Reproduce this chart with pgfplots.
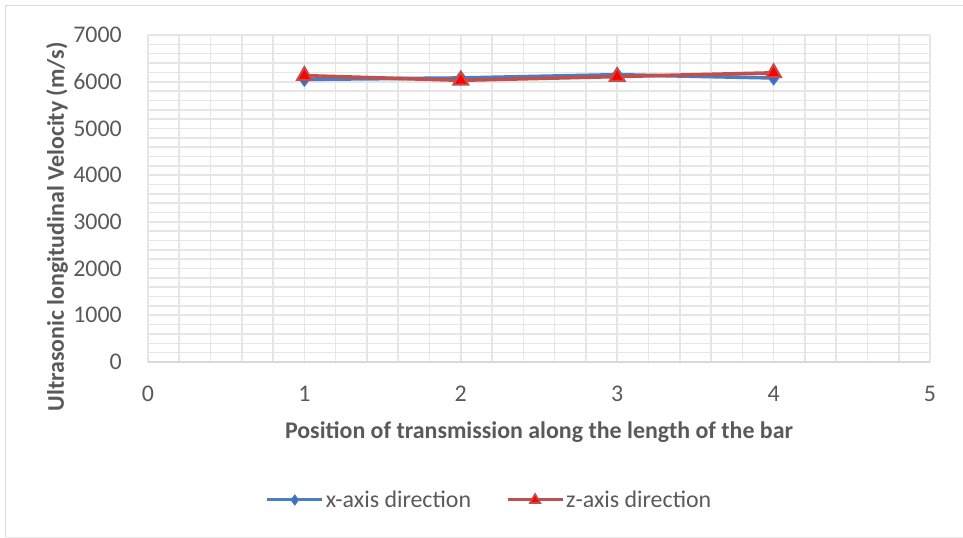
\documentclass[border=0pt]{standalone}
\usepackage{pgfplots}
\pgfplotsset{compat=1.18}
\usepackage{fontspec}
\setmainfont{Carlito}
\definecolor{txt}{HTML}{595959}
\definecolor{gridc}{HTML}{E6E6E6}
\definecolor{axc}{HTML}{D9D9D9}
\definecolor{blueS}{HTML}{4A7EC4}
\definecolor{blueM}{HTML}{3A6FC0}
\definecolor{redS}{HTML}{C0504D}
\begin{document}
\begin{tikzpicture}[x=1bp,y=1bp]
\path[use as bounding box] (0,0) rectangle (963,538);
\draw[color=axc, line width=1bp] (5.5,0.5) -- (5.5,532.5) -- (963,532.5);
\draw[color=gridc!70, line width=0.7bp] (5.5,0.8) -- (963,0.8);
\begin{axis}[
  at={(148bp,176bp)}, anchor=south west,
  width=782bp, height=327bp, scale only axis,
  xmin=0, xmax=5, ymin=0, ymax=7000,
  xtick={0,1,2,3,4,5}, ytick={0,1000,...,7000},
  minor x tick num=4, minor y tick num=4,
  grid=both,
  major grid style={draw=gridc, line width=1.6bp},
  minor grid style={draw=gridc, line width=1.6bp},
  axis x line*=bottom, axis y line*=left,
  y axis line style={draw=none},
  x axis line style={draw=axc, line width=1.6bp, -},
  major tick length=0pt, minor tick length=0pt,
  tick style={draw=none},
  /pgf/number format/assume math mode=true,
  /pgf/number format/set thousands separator={},
  ticklabel style={font=\fontsize{24}{28}\selectfont, text=txt, inner sep=0pt},
  yticklabel style={anchor=east, xshift=-26bp},
  xticklabel style={anchor=north, yshift=-23.5bp},
  xlabel={Position of transmission along the length of the bar},
  ylabel={Ultrasonic longitudinal Velocity (m/s)},
  label style={font=\fontsize{24}{28}\selectfont\bfseries, text=txt, inner sep=0pt},
  xlabel style={at={(axis description cs:0.5,0)}, anchor=center, yshift=-70bp},
  ylabel style={at={(axis description cs:-0.1164,0.413)}, anchor=center},
  legend style={at={(0.4367,-0.422)}, anchor=center, draw=none, fill=none,
    legend columns=2, font=\fontsize{24}{28}\selectfont, text=txt,
    inner sep=0pt,
    /tikz/every even column/.append style={column sep=33bp}},
  legend cell align=left,
  clip=false,
]
\addplot[color=blueS, line width=3.6bp, mark=diamond*, mark size=7bp,
  mark options={fill=blueM, draw=blueS, line width=1bp}]
  coordinates {(1,6050) (2,6080) (3,6150) (4,6080)};
\addlegendimage{legend image code/.code={
    \draw[color=blueS, line width=3bp] (0bp,0bp) -- (55bp,0bp);
    \path[draw=blueS, fill=blueM, line width=1bp] plot[mark=diamond*, mark size=5bp] coordinates {(27.5bp,0bp)};
  }}
\addplot[color=redS, line width=3.6bp, mark=triangle*, mark size=8.5bp,
  mark options={fill=red, draw=redS, line width=2bp}]
  coordinates {(1,6130) (2,6030) (3,6110) (4,6190)};
\addlegendimage{legend image code/.code={
    \draw[color=redS, line width=3bp] (0bp,0bp) -- (55bp,0bp);
    \path[draw=redS, fill=red, line width=1.6bp] plot[mark=triangle*, mark size=6bp] coordinates {(27.5bp,0bp)};
  }}
\legend{,x-axis direction,,z-axis direction}
\end{axis}
\end{tikzpicture}
\end{document}
